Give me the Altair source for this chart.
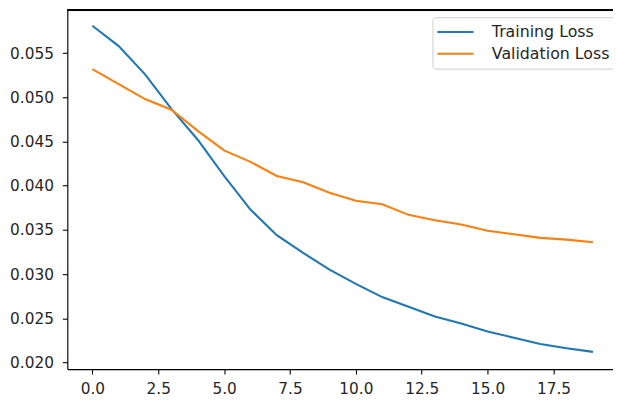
import altair as alt
import pandas as pd

epochs = list(range(20))
training_loss = [0.0581, 0.0558, 0.0526, 0.0487, 0.0452, 0.0411, 0.0373, 0.0344, 0.0324, 0.0305,
                 0.0289, 0.0274, 0.0263, 0.0252, 0.0244, 0.0235, 0.0228, 0.0221, 0.0216, 0.0212]
validation_loss = [0.0532, 0.0515, 0.0498, 0.0486, 0.0462, 0.0440, 0.0427, 0.0411, 0.0404, 0.0392,
                   0.0383, 0.0379, 0.0367, 0.0361, 0.0356, 0.0349, 0.0345, 0.0341, 0.0339, 0.0336]
series_names = ["Training Loss", "Validation Loss"]
series_colors = ["#1f77b4", "#ff7f0e"]
x_ticks = [0.0, 2.5, 5.0, 7.5, 10.0, 12.5, 15.0, 17.5]
y_ticks = [0.020, 0.025, 0.030, 0.035, 0.040, 0.045, 0.050, 0.055]

df = pd.DataFrame({
    "epoch": epochs * 2,
    "loss": training_loss + validation_loss,
    "series": [series_names[0]] * len(epochs) + [series_names[1]] * len(epochs),
})

W, H = 552, 363
FONT = "DejaVu Sans"
FS = 15.5
TXT = "#262626"

lines = alt.Chart(df).mark_line(strokeWidth=2.1).encode(
    x=alt.X("epoch:Q",
            scale=alt.Scale(domain=[-0.95, 19.76], nice=False, zero=False),
            axis=alt.Axis(values=x_ticks, format=".1f", title=None, grid=False,
                          tickSize=5, labelPadding=8, domainColor="#000", tickColor="#000",
                          domainWidth=1.1, tickWidth=1.1, labelFont=FONT, labelFontSize=FS,
                          labelColor=TXT, labelFlush=False)),
    y=alt.Y("loss:Q",
            scale=alt.Scale(domain=[0.01925, 0.05985], nice=False, zero=False),
            axis=alt.Axis(values=y_ticks, format=".3f", title=None, grid=False,
                          tickSize=5, labelPadding=9, domainColor="#000", tickColor="#000",
                          domainWidth=1.1, tickWidth=1.1, labelFont=FONT, labelFontSize=FS,
                          labelColor=TXT, labelFlush=False)),
    color=alt.Color("series:N",
                    scale=alt.Scale(domain=series_names, range=series_colors),
                    legend=alt.Legend(title=None, orient="none", legendX=369.4, legendY=7.0,
                                      symbolType="M-1.67,0H4.43", symbolSize=144,
                                      symbolStrokeWidth=2.1, labelOffset=37,
                                      labelFont=FONT, labelFontSize=16, labelColor=TXT,
                                      padding=7, rowPadding=6, fillColor="white",
                                      strokeColor="#cccccc", cornerRadius=3)),
)

top_spine = alt.Chart(df).mark_rule(color="#000", strokeWidth=1.1).encode(
    x=alt.value(0), x2=alt.value(W), y=alt.value(0)
)

chart = alt.layer(lines, top_spine).properties(
    width=W, height=H,
    padding={"left": 60, "top": 0, "right": 0, "bottom": 32},
    autosize=alt.AutoSizeParams(type="none"),
).configure_view(stroke=None).configure(background="white")

chart.save("out.html", embed_options={"renderer": "svg", "actions": False})
